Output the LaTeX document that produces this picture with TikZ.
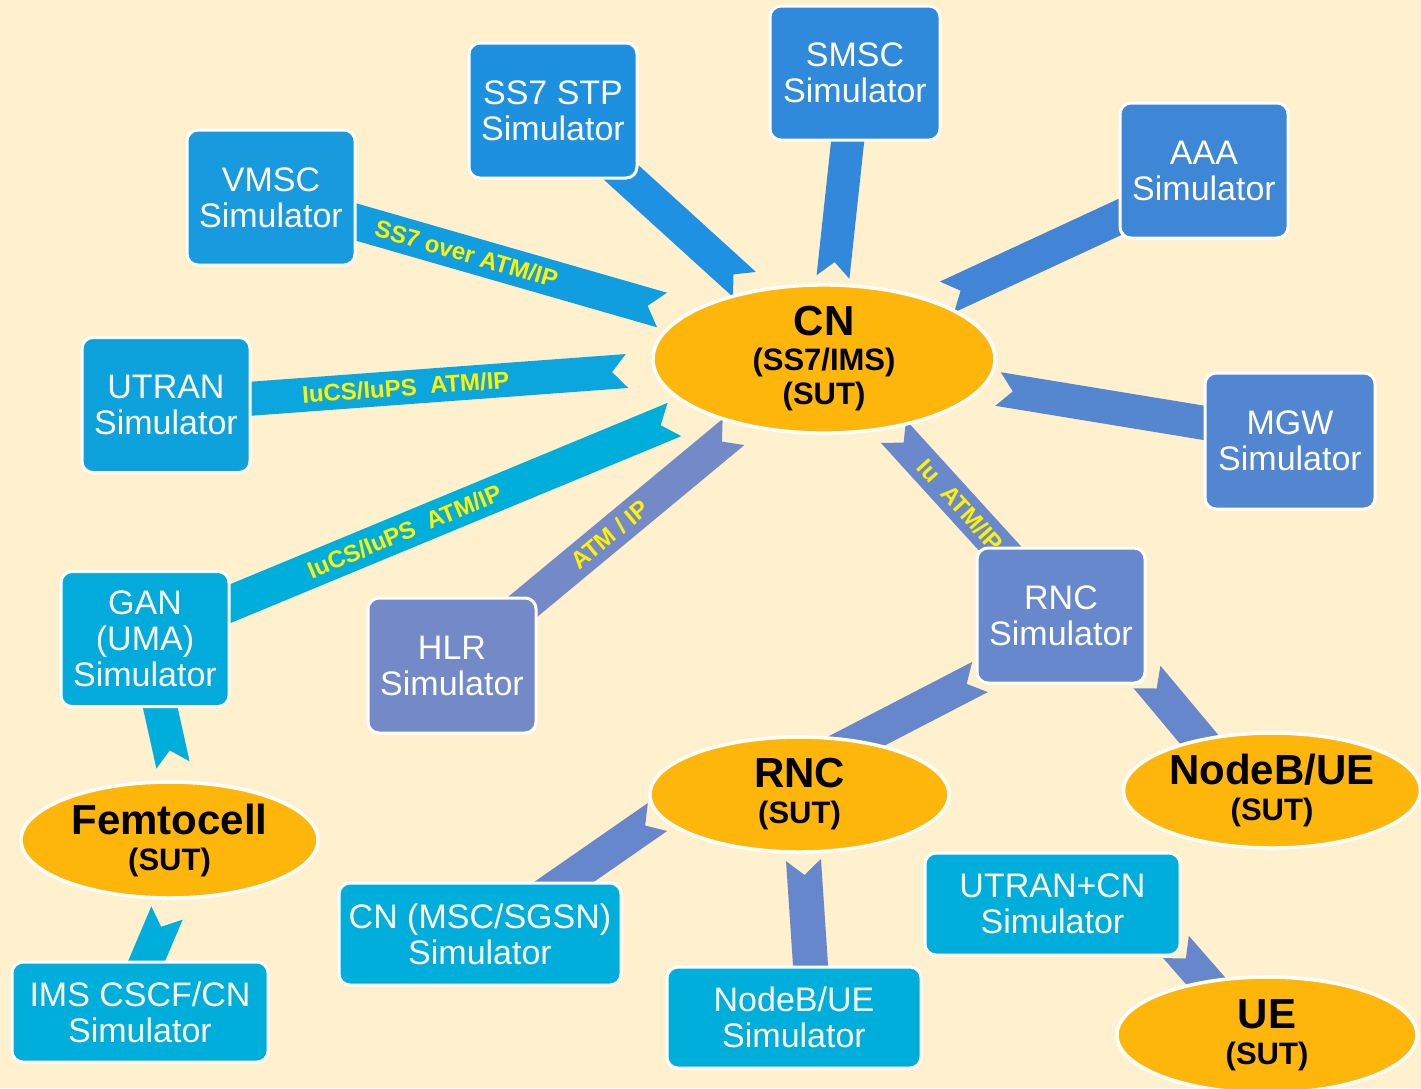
\documentclass[tikz,border=0pt]{standalone}
\usepackage{fontspec}
\setmainfont{Liberation Sans}
\usetikzlibrary{calc,shapes.geometric}
\pgfdeclarelayer{bg}
\pgfsetlayers{bg,main}
\definecolor{bgc}{HTML}{FFF0CE}
\definecolor{sutc}{HTML}{FFB60B}
\definecolor{cVMSC}{HTML}{189ADF}
\definecolor{cSS7}{HTML}{1E90E0}
\definecolor{cSMSC}{HTML}{2F8ADB}
\definecolor{cAAA}{HTML}{3E86D6}
\definecolor{cUTRAN}{HTML}{0EA2DD}
\definecolor{cMGW}{HTML}{5286D0}
\definecolor{cGAN}{HTML}{03AADC}
\definecolor{cHLR}{HTML}{7389C8}
\definecolor{cRNCs}{HTML}{6888CE}
\definecolor{cLow}{HTML}{00AEDC}
\definecolor{rVMSC}{HTML}{109EE0}
\definecolor{rSS7}{HTML}{1E91E2}
\definecolor{rSMSC}{HTML}{3289DC}
\definecolor{rAAA}{HTML}{4284D5}
\definecolor{rMGW}{HTML}{5587D0}
\definecolor{rUTRAN}{HTML}{0CA6DE}
\definecolor{rGAN}{HTML}{00AEDC}
\definecolor{rHLR}{HTML}{748AC8}
\definecolor{rIu}{HTML}{6A88CC}
\definecolor{rRNC}{HTML}{6787CC}
\newcommand\ribbon[4]{%
  \path #3 coordinate (rA) #4 coordinate (rB);
  \fill[#2] ($(rA)!#1!90:(rB)$) -- ($(rB)!#1!-90:(rA)$) -- ($(rB)!15pt!(rA)$)
    -- ($(rB)!#1!90:(rA)$) -- ($(rA)!#1!-90:(rB)$) -- cycle;}
\tikzset{
  box/.style={rectangle, rounded corners=11pt, draw=white, line width=3pt, text=white,
    align=center, font=\fontsize{34}{36}\selectfont, inner sep=0pt,
    minimum width=168pt, minimum height=135pt},
  wbox/.style={box, fill=cLow, minimum height=101pt},
  sut/.style={ellipse, fill=sutc, draw=white, line width=3.5pt, align=center,
    font=\fontsize{31}{34}\selectfont\bfseries, inner sep=0pt},
  lab/.style={text=yellow, font=\fontsize{24}{24}\selectfont\bfseries, inner sep=0pt}
}
\begin{document}
\begin{tikzpicture}[x=1pt,y=-1pt]
\useasboundingbox (0,0) rectangle (1421,1088);
% boxes
\node[box, fill=cVMSC] (vmsc) at (271,197.5) {VMSC\\Simulator};
\node[box, fill=cSS7] (stp) at (553,110.5) {SS7 STP\\Simulator};
\node[box, fill=cSMSC, minimum width=170pt, minimum height=134pt] (smsc) at (855,73) {SMSC\\Simulator};
\node[box, fill=cAAA] (aaa) at (1204,170.5) {AAA\\Simulator};
\node[box, fill=cUTRAN] (utran) at (166,405) {UTRAN\\Simulator};
\node[box, fill=cMGW, minimum width=170pt, minimum height=136pt] (mgw) at (1290,441) {MGW\\Simulator};
\node[box, fill=cGAN] (gan) at (145,639) {GAN\\(UMA)\\Simulator};
\node[box, fill=cHLR] (hlr) at (452,665.5) {HLR\\Simulator};
\node[box, fill=cRNCs] (rncsim) at (1061,615.5) {RNC\\Simulator};
\node[wbox, minimum width=282pt, minimum height=102pt] (cnsim) at (480,934) {CN (MSC/SGSN)\\Simulator};
\node[wbox, minimum width=254pt] (nbsim) at (794,1017.5) {NodeB/UE\\Simulator};
\node[wbox, minimum width=255pt, minimum height=102pt] (utcn) at (1052.5,904) {UTRAN+CN\\Simulator};
\node[wbox, minimum width=256pt, minimum height=100pt] (ims) at (140,1012) {IMS CSCF/CN\\Simulator};
% SUT ellipses
\node[sut, minimum width=342pt, minimum height=130pt] (cn) at (824,359)
  {{\fontsize{42}{42}\selectfont CN}\\[1pt](SS7/IMS)\\(SUT)};
\node[sut, minimum width=299pt, minimum height=115pt] (rnc) at (799.5,794.5)
  {{\fontsize{42}{42}\selectfont RNC}\\[2pt](SUT)};
\node[sut, minimum width=297pt, minimum height=115pt] (nodeb) at (1272,790.5)
  {{\fontsize{42}{42}\selectfont NodeB/UE}\\[2pt](SUT)};
\node[sut, minimum width=297pt, minimum height=116pt] (femto) at (169.5,840)
  {{\fontsize{42}{42}\selectfont Femtocell}\\[2pt](SUT)};
\node[sut, minimum width=300pt, minimum height=116pt] (ue) at (1267,1035)
  {{\fontsize{42}{42}\selectfont UE}\\[2pt](SUT)};
% ribbon ends
\coordinate (tVMSC) at (662,310);
\coordinate (tSTP) at (744.5,284.5);
\coordinate (tSMSC) at (833,277);
\coordinate (tAAA) at (947,297);
\coordinate (tUTRAN) at (627,371);
\coordinate (tGAN) at (674.5,419.5);
\coordinate (tHLR) at (733.5,432);
\coordinate (tMGW) at (998,389);
\coordinate (tIu) at (893.5,431.5);
\coordinate (tRNCa) at (980,677);
\coordinate (tRNCb) at (1147,677);
\coordinate (tCNsim) at (657.5,817);
\coordinate (tNBsim) at (803.5,860);
\coordinate (tFemA) at (173,765);
\coordinate (tFemB) at (167,913);
\coordinate (tUE) at (1176,947);
\begin{pgfonlayer}{bg}
\fill[bgc] (0,0) rectangle (1421,1088);
\ribbon{18pt}{rVMSC}{(vmsc.center)}{(tVMSC)}
\ribbon{17pt}{rSS7}{(stp.center)}{(tSTP)}
\ribbon{16.5pt}{rSMSC}{(smsc.center)}{(tSMSC)}
\ribbon{17pt}{rAAA}{([yshift=-7.5pt]aaa.center)}{(tAAA)}
\ribbon{17pt}{rUTRAN}{(utran.center)}{(tUTRAN)}
\ribbon{18pt}{rGAN}{(gan.center)}{(tGAN)}
\ribbon{17pt}{rHLR}{(hlr.center)}{(tHLR)}
\ribbon{17pt}{rMGW}{([yshift=4pt]mgw.center)}{(tMGW)}
\ribbon{17pt}{rIu}{(rncsim.center)}{(tIu)}
\ribbon{17pt}{rRNC}{([yshift=24pt]rnc.center)}{(tRNCa)}
\ribbon{17.5pt}{rRNC}{([xshift=-30pt]nodeb.center)}{(tRNCb)}
\ribbon{17pt}{rRNC}{([xshift=9pt]cnsim.center)}{(tCNsim)}
\ribbon{17.5pt}{rRNC}{([xshift=20pt]nbsim.center)}{(tNBsim)}
\ribbon{17pt}{rGAN}{(gan.center)}{(tFemA)}
\ribbon{17pt}{rGAN}{([xshift=-15pt]ims.center)}{(tFemB)}
\ribbon{17pt}{rRNC}{([xshift=-14pt]ue.center)}{(tUE)}
\end{pgfonlayer}
% labels
\path (vmsc.center) -- (tVMSC) node[lab, sloped, pos=0.5] (lSS7) {SS7 over ATM/IP};
\path (utran.center) -- (tUTRAN) node[lab, sloped, pos=0.52] (lIuA) {IuCS/IuPS\ \ ATM/IP};
\path (gan.center) -- (tGAN) node[lab, sloped, pos=0.49] (lIuB) {IuCS/IuPS\ \ ATM/IP};
\path (hlr.center) -- (tHLR) node[lab, sloped, pos=0.56] (lATM) {ATM / IP};
\path (rncsim.center) -- (tIu) node[lab, sloped, pos=0.6] (lIuC) {Iu\ \ ATM/IP};
\end{tikzpicture}
\end{document}
